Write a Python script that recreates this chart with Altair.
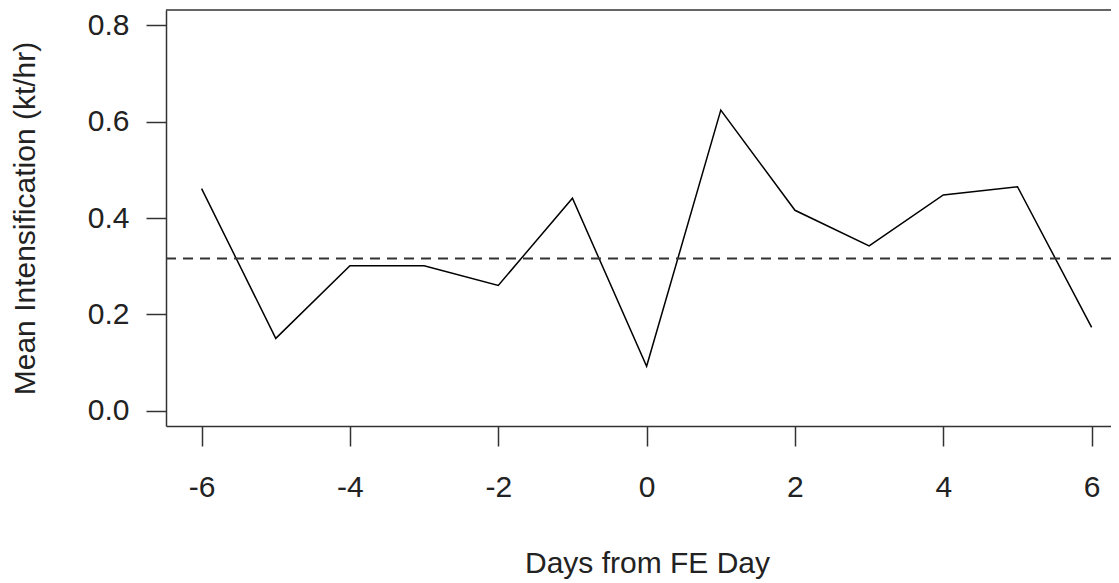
import altair as alt
import pandas as pd

# Data
days = [-6, -5, -4, -3, -2, -1, 0, 1, 2, 3, 4, 5, 6]
mean_intens = [0.461, 0.150, 0.301, 0.301, 0.260, 0.441, 0.092,
               0.624, 0.416, 0.342, 0.448, 0.465, 0.173]
ref_level = [0.316]
x_ticks = [-6, -4, -2, 0, 2, 4, 6]
y_ticks = [0.0, 0.2, 0.4, 0.6, 0.8]

W, H = 945, 416
FONT = "Liberation Sans"
FS = 30
TXT = "#222222"
LINE = "#333333"

df = pd.DataFrame({"day": days, "val": mean_intens})
ref_df = pd.DataFrame({"level": ref_level})

x_enc = alt.X(
    "day:Q",
    scale=alt.Scale(domain=[-6.48, -6.48 + W / 74.17], nice=False, zero=False),
    axis=alt.Axis(
        values=x_ticks, labelExpr="toString(datum.value)", title="Days from FE Day",
        tickSize=20, labelPadding=26, titleX=481, titleY=137,
        titleBaseline="middle", titleAlign="center",
    ),
)
y_enc = alt.Y(
    "val:Q",
    scale=alt.Scale(domain=[-0.032, 0.832], nice=False, zero=False),
    axis=alt.Axis(
        values=y_ticks, format=".1f", title="Mean Intensification (kt/hr)",
        tickSize=20, labelPadding=17, titleX=-141, titleY=H / 2,
        titleAngle=270, titleBaseline="middle", titleAlign="center",
    ),
)

line = alt.Chart(df).mark_line(color="black", strokeWidth=1.5).encode(x=x_enc, y=y_enc)

hline = alt.Chart(ref_df).mark_rule(
    color=LINE, strokeWidth=2, strokeDash=[10, 7]
).encode(y=alt.Y("level:Q"))

top = alt.Chart(ref_df).mark_rule(color=LINE, strokeWidth=1.5).encode(
    x=alt.value(0), x2=alt.value(W), y=alt.value(0)
)

chart = (
    alt.layer(line, hline, top)
    .properties(
        width=W, height=H,
        autosize=alt.AutoSizeParams(type="none"),
        padding={"left": 158, "top": 2, "right": 0, "bottom": 157},
    )
    .configure_view(stroke=None)
    .configure_axis(
        grid=False,
        domainColor=LINE, domainWidth=1.5,
        tickColor=LINE, tickWidth=1.5,
        labelFont=FONT, labelFontSize=FS, labelColor=TXT,
        titleFont=FONT, titleFontSize=FS, titleColor=TXT, titleFontWeight="normal",
    )
)

chart.save("out.html", embed_options={"renderer": "svg", "actions": False})
